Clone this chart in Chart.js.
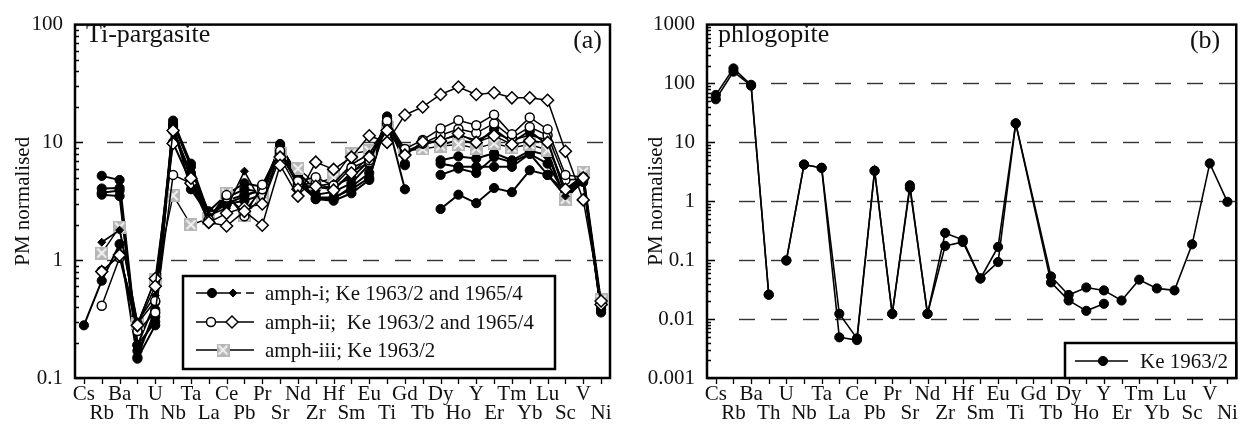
<!DOCTYPE html>
<html lang="en">
<head>
<meta charset="UTF-8">
<meta name="viewport" content="width=device-width, initial-scale=1.0">
<title>Ti-pargasite and phlogopite, PM normalised</title>
<script src="https://cdn.jsdelivr.net/npm/chart.js@4.4.1/dist/chart.umd.min.js"></script>
<style>
  html, body { margin: 0; padding: 0; background: #fff; }
  .wrap { position: relative; width: 1245px; height: 427px; overflow: hidden; }
  .panel { position: absolute; top: 0; height: 427px; }
  #panelA { left: 0; width: 622px; }
  #panelB { left: 622px; width: 623px; }
</style>
</head>
<body>
<div class="wrap">
  <div class="panel" id="panelA"><canvas id="chartA"></canvas></div>
  <div class="panel" id="panelB"><canvas id="chartB"></canvas></div>
</div>
<script>
  // element order on the x axis (same for both panels)
  const elements = ['Cs','Rb','Ba','Th','U','Nb','Ta','La','Ce','Pb','Pr','Sr','Nd','Zr','Hf','Sm','Eu','Ti','Gd','Tb','Dy','Ho','Y','Er','Tm','Yb','Lu','Sc','V','Ni'];

  // y tick labels and dashed reference lines
  const ticksA = [0.1, 1, 10, 100];
  const ticksB = [0.001, 0.01, 0.1, 1, 10, 100, 1000];
  const dashedA = [1, 10];
  const dashedB = [0.01, 0.1, 1, 10, 100];

  // (a) Ti-pargasite
  //               Cs    Rb    Ba    Th    U     Nb    Ta   La   Ce   Pb   Pr   Sr   Nd   Zr   Hf   Sm   Eu   Ti    Gd   Tb    Dy    Ho    Y     Er    Tm    Yb    Lu    Sc   V    Ni
  const amphI_1 = [0.28, 0.67, 1.37, 0.146,0.28, 15.3, 6.6, 2.5, 3.0, 3.2, 3.6, 9.7, 5.0, 3.3, 3.2, 3.7, 4.8, 16.6, 6.4, null, 7.05, 7.6,  7.3,  8.1,  7.05, 8.5,  7.8,  3.3, 4.8, 0.36];
  const amphI_2 = [null, 5.2,  4.8,  0.19, 0.44, 14.5, 6.2, 2.3, 3.2, 3.6, 3.9, 9.2, 4.5, 3.3, 3.3, 4.2, 5.5, 15.5, 4.0, null, 2.72, 3.6,  3.05, 4.1,  3.78, 5.8,  5.3,  3.5, 4.6, 0.38];
  const amphI_3 = [null, 4.06, 4.1,  0.15, 0.38, 14.0, 4.0, 2.4, 3.0, 3.5, 4.0, 9.0, 4.8, 3.4, 3.4, 4.0, 5.0, 15.0, 6.6, null, 6.6,  6.2,  6.2,  6.2,  6.2,  8.0,  6.6,  3.6, 4.9, 0.37];
  const amphI_4 = [null, 3.73, 3.9,  0.19, 0.30, 13.5, 5.0, 2.3, 3.4, 4.0, 3.8, 9.5, 5.2, 3.6, 3.8, 4.5, 6.5, 16.0, null,null, 5.3,  6.0,  5.5,  7.5,  6.8,  8.0,  5.3,  3.8, 5.0, 0.38];
  const amphI_5 = [null, 3.6,  3.5,  0.17, 0.33, 12.5, 5.5, 2.6, 3.6, 4.5, 4.2, 9.0, 5.5, 4.0, 4.3, 5.0, 7.0, 14.5, 8.5, null, 9.5,  10.5, 9.8,  12.9, 10.0, 12.5, 9.5,  4.0, 5.2, 0.40];
  const amphI_6 = [null, 1.42, 1.8,  0.30, 0.50, 12.0, 5.2, 2.4, 2.77,5.7, 2.99,8.5, 4.24,4.24,4.5, 6.5, 8.0, 13.5, 8.0, 9.5,  10.5, 11.5, 10.5, 12.0, 10.5, 11.5, 10.5, 3.5, 5.0, 0.42];
  const amphII_1 = [null,0.41, 1.05, 0.25, 0.36, 5.3,  4.5, 2.2, 3.57,2.36,4.38,8.5, 4.67,5.06,4.3, 6.1, 7.05,15.3, 8.8, 10.5, 13.1, 15.4, 14.0, 17.2, 11.7, 16.3, 12.9, 5.3, 5.06,0.42];
  const amphII_2 = [null,0.81, 1.1,  0.29, 0.45, 10.0, 4.6, 2.2, 3.4, 2.6, 4.0, 8.0, 4.4, 4.5, 4.0, 5.6, 6.8, 14.5, 8.3, 9.8,  11.5, 13.0, 12.0, 14.5, 11.0, 13.5, 11.5, 4.8, 4.9, 0.43];
  const amphII_3 = [null,0.80, 1.1,  0.28, 0.60, 12.6, 4.97,2.1, 1.95,2.6, 1.98,6.4, 3.5, 6.8, 5.9, 7.5, 11.4,10.0, 17.1,20.0, 25.5, 29.5, 25.5, 26.4, 23.9, 23.9, 22.8, 8.4, 3.25,0.45];
  const amphII_4 = [null,null, 1.11, 0.28, 0.70, 9.8,  4.5, 2.09,2.5, 2.8, 3.0, 7.5, 4.0, 4.24,3.93,5.5, 7.5, 12.6, 7.8, 10.1, 10.3, 11.9, 10.0, 11.4, 9.6,  10.3, 10.0, 4.0, 5.0, 0.42];
  const amphIII_1 = [null,1.15,1.91, 0.29, 0.68, 3.55, 2.0, 2.25,3.7, 2.4, 3.5, 8.0, 6.0, 4.5, 5.0, 8.0, 8.5, 13.5, 8.5, 8.8,  9.3,  9.6,  8.9,  9.8,  9.0,  9.6,  8.6,  3.3, 5.6, 0.46];

  // (b) phlogopite Ke 1963/2, two analyses
  const phl_1 = [64, 180, 95, 0.026, 0.099, 4.2, 3.7, 0.0123, 0.0047, 3.3, 0.0123, 1.87, 0.0123, 0.29, 0.222, 0.049, 0.168, 21, null, 0.053, 0.0257, 0.0344, 0.0307, 0.0207, 0.0467, 0.0332, 0.0307, 0.186, 4.4, 0.98];
  const phl_2 = [54, 159, 92, 0.026, 0.099, 4.2, 3.7, 0.0049, 0.0044, 3.3, 0.0123, 1.69, 0.0123, 0.175, 0.204, 0.049, 0.093, 21, null, 0.042, 0.0207, 0.0138, 0.0182, null, null, null, null, null, null, null];
  const phlBreakAfter = 'Th'; // no line between Th and U

  const SERIF = "'Liberation Serif', 'DejaVu Serif', serif";
  const INK = '#111';

  // grey square with white cross (amph-iii)
  function makeGreyMark(size) {
    const c = document.createElement('canvas');
    c.width = c.height = size;
    const g = c.getContext('2d');
    g.fillStyle = '#b5b5b5';
    g.fillRect(0, 0, size, size);
    g.strokeStyle = '#f4f4f4';
    g.lineWidth = 2;
    g.beginPath();
    g.moveTo(2, 2); g.lineTo(size - 2, size - 2);
    g.moveTo(size - 2, 2); g.lineTo(2, size - 2);
    g.stroke();
    return c;
  }
  const greyMark = makeGreyMark(13);

  const marks = {
    fc: { style: 'circle', r: 4.6, fill: '#000', bw: 1, lw: 2 },
    fd: { style: 'rectRot', r: 4, fill: '#000', bw: 1, lw: 1.6 },
    oc: { style: 'circle', r: 4.5, fill: '#fff', bw: 1.5, lw: 1.5 },
    od: { style: 'rectRot', r: 6, fill: '#fff', bw: 1.5, lw: 1.5 },
    gs: { style: greyMark, r: 6, fill: '#b5b5b5', bw: 0, lw: 1.4 }
  };

  function drawMark(ctx, kind, x, y) {
    const m = marks[kind];
    ctx.save();
    ctx.setLineDash([]);
    if (kind === 'gs') {
      ctx.drawImage(greyMark, x - greyMark.width / 2, y - greyMark.height / 2);
    } else {
      ctx.beginPath();
      if (m.style === 'circle') {
        ctx.arc(x, y, m.r, 0, Math.PI * 2);
      } else {
        ctx.moveTo(x - m.r, y); ctx.lineTo(x, y - m.r); ctx.lineTo(x + m.r, y); ctx.lineTo(x, y + m.r);
        ctx.closePath();
      }
      ctx.fillStyle = m.fill; ctx.fill();
      ctx.lineWidth = m.bw; ctx.strokeStyle = '#000'; ctx.stroke();
    }
    ctx.restore();
  }

  function series(data, kind, extra) {
    const m = marks[kind];
    return Object.assign({
      data,
      borderColor: '#000',
      borderWidth: m.lw,
      pointStyle: m.style,
      pointRadius: m.r,
      pointBackgroundColor: m.fill,
      pointBorderColor: '#000',
      pointBorderWidth: m.bw,
      tension: 0,
      spanGaps: false
    }, extra || {});
  }

  function fmtTick(v) {
    return v >= 1 ? String(Math.round(v)) : String(Number(v.toPrecision(1)));
  }

  // frame, inner log ticks, dashed lines, panel title and legend
  const decoPlugin = {
    id: 'deco',
    beforeDatasetsDraw(chart, args, o) {
      const { ctx, chartArea: a, scales: { y } } = chart;
      ctx.save();
      ctx.strokeStyle = '#333';
      ctx.lineWidth = 1.4;
      ctx.setLineDash([16, 16]);
      o.dashed.forEach(v => {
        const py = Math.round(y.getPixelForValue(v)) + 0.5;
        ctx.beginPath();
        ctx.moveTo(a.left + 32, py);
        ctx.lineTo(a.right, py);
        ctx.stroke();
      });
      ctx.restore();
    },
    afterDatasetsDraw(chart, args, o) {
      const { ctx, chartArea: a, scales: { x, y } } = chart;
      ctx.save();
      ctx.strokeStyle = '#000';
      ctx.lineWidth = 1.3;
      const e0 = Math.round(Math.log10(y.min)), e1 = Math.round(Math.log10(y.max));
      ctx.beginPath();
      for (let e = e0; e < e1; e++) {
        for (let m = 1; m <= 9; m++) {
          const py = Math.round(y.getPixelForValue(m * Math.pow(10, e))) + 0.5;
          ctx.moveTo(a.left, py);
          ctx.lineTo(a.left + (m === 1 ? 8 : 4), py);
        }
      }
      elements.forEach((el, i) => {
        const px = Math.round(x.getPixelForValue(i)) + 0.5;
        ctx.moveTo(px, a.bottom);
        ctx.lineTo(px, a.bottom + 6);
      });
      ctx.stroke();

      ctx.lineWidth = 2.5;
      ctx.strokeRect(a.left, a.top, a.right - a.left, a.bottom - a.top);

      ctx.fillStyle = INK;
      ctx.font = '26px ' + SERIF;
      ctx.textBaseline = 'alphabetic';
      ctx.textAlign = 'left';
      ctx.fillText(o.title, a.left + 11, 42);
      ctx.textAlign = 'right';
      ctx.fillText(o.tag, a.right - o.tagInset, 48);

      o.legend(ctx, a);
      ctx.restore();
    }
  };

  function legendA(ctx, a) {
    const box = { l: 183, t: 276, r: 555, b: 369 };
    ctx.fillStyle = '#fff';
    ctx.fillRect(box.l, box.t, box.r - box.l, box.b - box.t);
    ctx.lineWidth = 2.5;
    ctx.strokeStyle = '#000';
    ctx.strokeRect(box.l, box.t, box.r - box.l, box.b - box.t);
    const rows = [
      { y: 293, text: 'amph-i; Ke 1963/2 and 1965/4', marks: [['fc', 212], ['fd', 233]], gap: true },
      { y: 322, text: 'amph-ii;  Ke 1963/2 and 1965/4', marks: [['oc', 211], ['od', 232]] },
      { y: 350, text: 'amph-iii; Ke 1963/2', marks: [['gs', 223]] }
    ];
    ctx.font = '21px ' + SERIF;
    ctx.textAlign = 'left';
    ctx.textBaseline = 'middle';
    rows.forEach(row => {
      ctx.lineWidth = 1.6;
      ctx.beginPath();
      ctx.moveTo(196, row.y);
      if (row.gap) {
        ctx.lineTo(241, row.y);
        ctx.moveTo(246, row.y);
      }
      ctx.lineTo(254, row.y);
      ctx.stroke();
      row.marks.forEach(([k, mx]) => drawMark(ctx, k, mx, row.y));
      ctx.fillStyle = INK;
      ctx.fillText(row.text, 265, row.y + 1);
    });
  }

  function legendB(ctx, a) {
    const box = { l: 443, t: 343, r: a.right, b: a.bottom };
    ctx.fillStyle = '#fff';
    ctx.fillRect(box.l, box.t, box.r - box.l, box.b - box.t);
    ctx.lineWidth = 2.5;
    ctx.strokeStyle = '#000';
    ctx.strokeRect(box.l, box.t, box.r - box.l, box.b - box.t);
    ctx.lineWidth = 1.6;
    ctx.beginPath();
    ctx.moveTo(453, 361);
    ctx.lineTo(506, 361);
    ctx.stroke();
    drawMark(ctx, 'fc', 481, 361);
    ctx.fillStyle = INK;
    ctx.font = '21px ' + SERIF;
    ctx.textAlign = 'left';
    ctx.textBaseline = 'middle';
    ctx.fillText('Ke 1963/2', 518, 362);
  }

  function axes(tickValues, yWidth, titlePad) {
    return {
      x: {
        type: 'category',
        offset: true,
        afterFit: s => { s.height = 49; },
        grid: { display: false, drawTicks: false },
        border: { display: false },
        ticks: {
          autoSkip: false, maxRotation: 0, minRotation: 0, padding: 7,
          color: INK,
          font: { family: SERIF, size: 21, lineHeight: 19 / 21 },
          callback(v, i) {
            const l = this.getLabelForValue(v);
            return i % 2 ? ['', l] : l;
          }
        }
      },
      y: {
        type: 'logarithmic',
        min: tickValues[0],
        max: tickValues[tickValues.length - 1],
        afterBuildTicks: s => { s.ticks = tickValues.map(v => ({ value: v })); },
        afterFit: s => { s.width = yWidth; },
        grid: { display: false, drawTicks: false },
        border: { display: false },
        ticks: { padding: 12, color: INK, font: { family: SERIF, size: 21 }, callback: v => fmtTick(v) },
        title: {
          display: true, text: 'PM normalised', color: INK,
          font: { family: SERIF, size: 21 },
          padding: { top: titlePad, bottom: 0 }
        }
      }
    };
  }

  const common = {
    responsive: true,
    maintainAspectRatio: false,
    animation: false,
    events: [],
    plugins: { legend: { display: false }, tooltip: { enabled: false } }
  };

  new Chart(document.getElementById('chartA'), {
    type: 'line',
    data: {
      labels: elements,
      datasets: [
        series(amphII_3, 'od'),
        series(amphII_4, 'od'),
        series(amphII_1, 'oc'),
        series(amphII_2, 'oc'),
        series(amphI_6, 'fd'),
        series(amphIII_1, 'gs'),
        series(amphI_1, 'fc'),
        series(amphI_2, 'fc'),
        series(amphI_3, 'fc'),
        series(amphI_4, 'fc'),
        series(amphI_5, 'fc')
      ]
    },
    options: Object.assign({}, common, {
      layout: { padding: { top: 15, right: 12, left: 0, bottom: 0 } },
      scales: axes(ticksA, 75, 11),
      plugins: Object.assign({}, common.plugins, {
        deco: { dashed: dashedA, title: 'Ti-pargasite', tag: '(a)', tagInset: 8, legend: legendA }
      })
    }),
    plugins: [decoPlugin]
  });

  const breakIdx = elements.indexOf(phlBreakAfter);
  const phlSegment = { borderColor: c => (c.p0DataIndex === breakIdx ? 'rgba(0,0,0,0)' : '#000') };

  new Chart(document.getElementById('chartB'), {
    type: 'line',
    data: {
      labels: elements,
      datasets: [
        series(phl_1, 'fc', { spanGaps: true, segment: phlSegment, borderWidth: 1.6 }),
        series(phl_2, 'fc', { spanGaps: true, segment: phlSegment, borderWidth: 1.6 })
      ]
    },
    options: Object.assign({}, common, {
      layout: { padding: { top: 15, right: 3, left: 0, bottom: 0 } },
      scales: axes(ticksB, 85, 22),
      plugins: Object.assign({}, common.plugins, {
        deco: { dashed: dashedB, title: 'phlogopite', tag: '(b)', tagInset: 16, legend: legendB }
      })
    }),
    plugins: [decoPlugin]
  });
</script>
</body>
</html>
